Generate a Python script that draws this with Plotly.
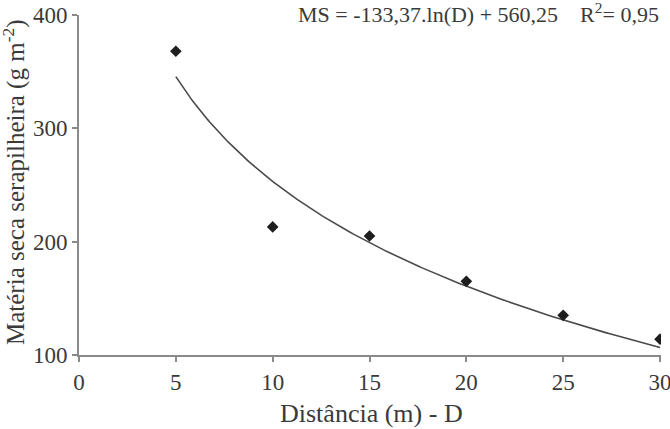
import numpy as np
import plotly.graph_objects as go

# Observed data
distance = [5, 10, 15, 20, 25, 30]
dry_matter = [368, 213, 205, 165, 135, 114]

# Fitted logarithmic model shown on the chart: MS = A*ln(D) + B
coef_a = -133.37
coef_b = 560.25
equation_label = "MS = -133,37.ln(D) + 560,25"
r2_label = "0,95"

x_ticks = [0, 5, 10, 15, 20, 25, 30]
y_ticks = [100, 200, 300, 400]

x_title = "Distância (m) - D"
y_title = "Matéria seca serapilheira (g m<sup>-2</sup>)"

fit_x = np.linspace(min(distance), max(distance), 200)
fit_y = coef_a * np.log(fit_x) + coef_b

text_color = "#3a3a3a"
axis_color = "#8a8a8a"
font_family = "Liberation Serif"

fig = go.Figure()
fig.add_trace(go.Scatter(
    x=fit_x, y=fit_y, mode="lines",
    line=dict(color="#4a4a4a", width=1.6),
    hoverinfo="skip", showlegend=False,
))
fig.add_trace(go.Scatter(
    x=distance, y=dry_matter, mode="markers",
    marker=dict(symbol="diamond", size=9, color="#1e1e1e"),
    showlegend=False,
))

fig.add_annotation(
    xref="paper", yref="paper", x=1.0, y=1.005,
    xanchor="right", yanchor="middle", showarrow=False,
    text=equation_label + "&nbsp;&nbsp;&nbsp; R<sup>2</sup>= " + r2_label,
    font=dict(family=font_family, size=22, color=text_color),
)
fig.add_annotation(
    xref="paper", yref="paper", x=0.503, y=-0.171,
    xanchor="center", yanchor="middle", showarrow=False,
    text=x_title,
    font=dict(family=font_family, size=26, color=text_color),
)
fig.add_annotation(
    xref="paper", yref="paper", x=-0.111, y=0.51,
    xanchor="center", yanchor="middle", showarrow=False, textangle=-90,
    text=y_title,
    font=dict(family=font_family, size=25, color=text_color),
)

fig.update_layout(
    width=670, height=429,
    margin=dict(l=79, r=9, t=15, b=74, autoexpand=False),
    paper_bgcolor="white", plot_bgcolor="white",
    font=dict(family=font_family, color=text_color),
)
fig.update_xaxes(
    range=[0, 30.05], tickvals=x_ticks, ticktext=[str(v) for v in x_ticks],
    showgrid=False, zeroline=False, showline=True, linecolor=axis_color, linewidth=2,
    ticks="outside", ticklen=5, tickwidth=1.5, tickcolor=axis_color,
    ticklabeloverflow="allow", automargin=False,
    tickfont=dict(family=font_family, size=23, color=text_color),
)
fig.update_yaxes(
    range=[100, 400], tickvals=y_ticks, ticktext=[str(v) for v in y_ticks],
    showgrid=False, zeroline=False, showline=True, linecolor=axis_color, linewidth=2,
    ticks="outside", ticklen=5, tickwidth=1.5, tickcolor=axis_color,
    automargin=False,
    tickfont=dict(family=font_family, size=23, color=text_color),
)

fig.write_html("out.html")
